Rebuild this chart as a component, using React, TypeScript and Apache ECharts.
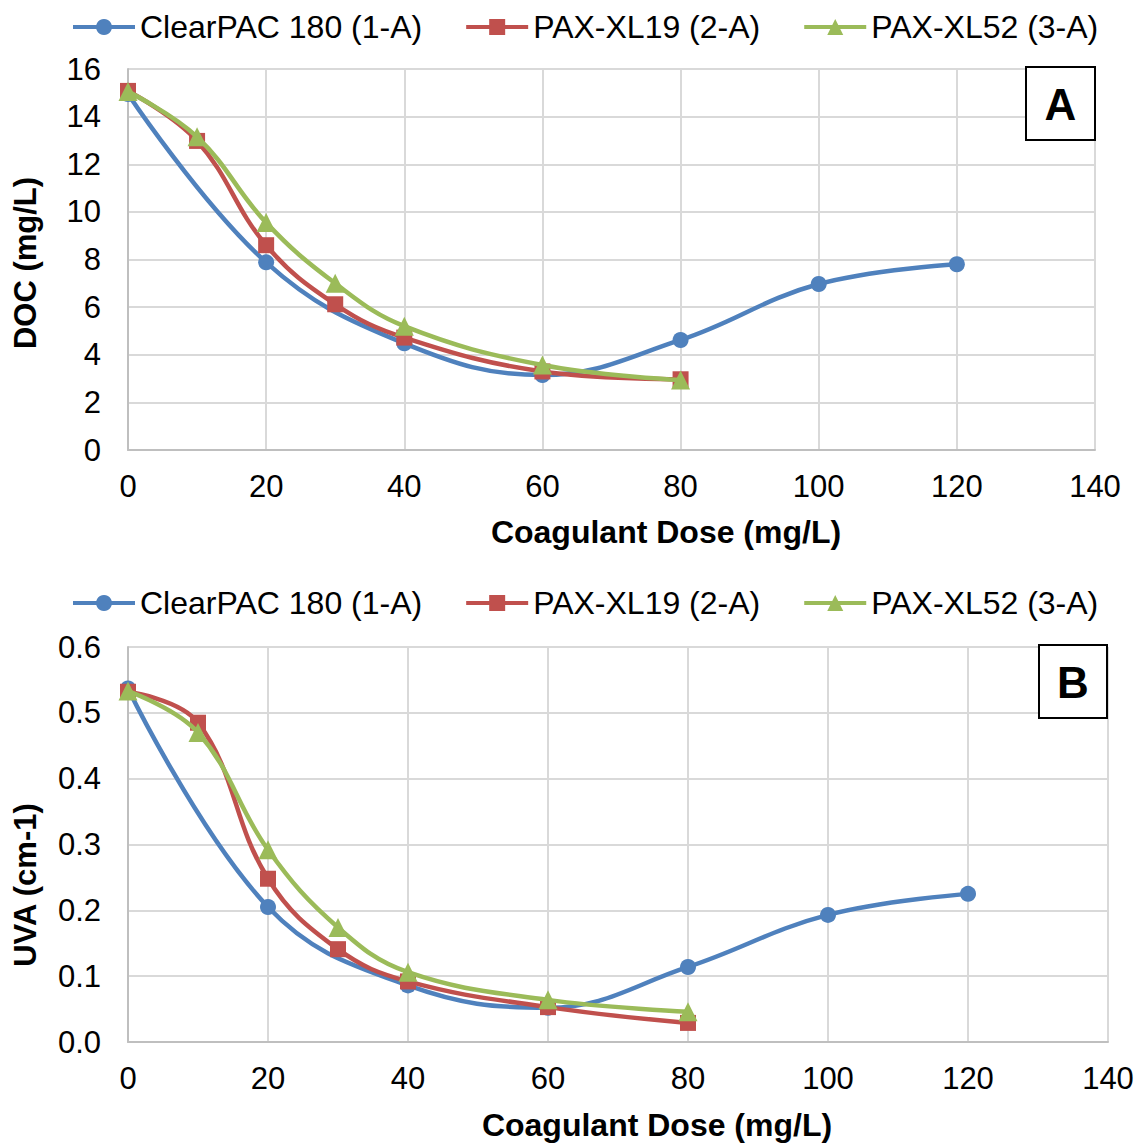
import React, { useEffect, useRef } from "react";
import * as echarts from "echarts";

const seriesNames = ["ClearPAC 180 (1-A)", "PAX-XL19 (2-A)", "PAX-XL52 (3-A)"];
const colors = ["#4f81bd", "#c0504d", "#9bbb59"];
const symbols = ["circle", "rect", "triangle"];

const blueDoses = [0, 20, 40, 60, 80, 100, 120];
const otherDoses = [0, 10, 20, 30, 40, 60, 80];

const docBlue = [14.95, 7.88, 4.48, 3.15, 4.62, 6.97, 7.8];
const docRed = [15.08, 12.98, 8.6, 6.12, 4.72, 3.3, 2.97];
const docGreen = [15.05, 13.15, 9.55, 7.0, 5.2, 3.57, 2.94];

const uvaBlue = [0.537, 0.205, 0.086, 0.052, 0.114, 0.193, 0.225];
const uvaRed = [0.532, 0.485, 0.248, 0.141, 0.092, 0.053, 0.029];
const uvaGreen = [0.533, 0.47, 0.292, 0.174, 0.106, 0.064, 0.046];

const xTicks = { min: 0, max: 140, interval: 20 };
const docTicks = { min: 0, max: 16, interval: 2 };
const uvaTicks = { min: 0, max: 0.6, interval: 0.1 };

const FONT = "'Liberation Sans', Arial, sans-serif";

function pairs(xs: number[], ys: number[]) {
  return xs.map((x, i) => [x, ys[i]]);
}

export default function App() {
  const ref = useRef<HTMLDivElement>(null);
  useEffect(() => {
    if (!ref.current) return;
    const chart = echarts.init(ref.current, null, { renderer: "svg" });
    const gridColor = "#d9d9d9";
    const axisColor = "#bfbfbf";
    const mkX = (gridIndex: number) => ({
      type: "value",
      gridIndex,
      min: xTicks.min,
      max: xTicks.max,
      interval: xTicks.interval,
      axisLine: { show: true, onZero: false, lineStyle: { color: axisColor, width: 2 } },
      axisTick: { show: false },
      axisLabel: { color: "#000", fontSize: 31, fontFamily: FONT, margin: 21 },
      splitLine: { show: true, lineStyle: { color: gridColor, width: 2 } },
    });
    const mkY = (gridIndex: number, t: any, fmt: (v: number) => string) => ({
      type: "value",
      gridIndex,
      min: t.min,
      max: t.max,
      interval: t.interval,
      axisLine: { show: true, lineStyle: { color: axisColor, width: 2 } },
      axisTick: { show: false },
      axisLabel: { color: "#000", fontSize: 31, fontFamily: FONT, margin: 27, formatter: fmt },
      splitLine: { show: true, lineStyle: { color: gridColor, width: 2 } },
    });
    const mkSeries = (idx: number, gi: number, data: number[][]) => ({
      type: "line",
      name: seriesNames[idx],
      xAxisIndex: gi,
      yAxisIndex: gi,
      data,
      smooth: 0.4,
      symbol: symbols[idx],
      symbolSize: idx === 2 ? 19 : 16,
      lineStyle: { color: colors[idx], width: 4.5 },
      itemStyle: { color: colors[idx] },
      z: 3 + idx,
    });
    const legendCommon = {
      data: seriesNames,
      left: 66,
      itemWidth: 62,
      itemHeight: 20,
      itemGap: 42,
      lineStyle: { width: 4 },
      textStyle: { color: "#000", fontSize: 32, fontFamily: FONT },
      selectedMode: false,
    };
    chart.setOption({
      animation: false,
      backgroundColor: "#fff",
      legend: [
        { ...legendCommon, top: 6 },
        { ...legendCommon, top: 582 },
      ],
      grid: [
        { left: 128, right: 50, top: 69, height: 381 },
        { left: 128, right: 37, top: 647, height: 395 },
      ],
      xAxis: [mkX(0), mkX(1)],
      yAxis: [
        mkY(0, docTicks, (v: number) => String(v)),
        mkY(1, uvaTicks, (v: number) => v.toFixed(1)),
      ],
      series: [
        mkSeries(0, 0, pairs(blueDoses, docBlue)),
        mkSeries(1, 0, pairs(otherDoses, docRed)),
        mkSeries(2, 0, pairs(otherDoses, docGreen)),
        mkSeries(0, 1, pairs(blueDoses, uvaBlue)),
        mkSeries(1, 1, pairs(otherDoses, uvaRed)),
        mkSeries(2, 1, pairs(otherDoses, uvaGreen)),
      ],
      graphic: [
        {
          type: "text",
          x: 666,
          y: 532,
          style: { text: "Coagulant Dose (mg/L)", fontSize: 32, fontWeight: "bold", fontFamily: FONT, fill: "#000", align: "center", verticalAlign: "middle" },
        },
        {
          type: "text",
          x: 657,
          y: 1125,
          style: { text: "Coagulant Dose (mg/L)", fontSize: 32, fontWeight: "bold", fontFamily: FONT, fill: "#000", align: "center", verticalAlign: "middle" },
        },
        {
          type: "text",
          x: 25,
          y: 263,
          rotation: Math.PI / 2,
          style: { text: "DOC (mg/L)", fontSize: 31, fontWeight: "bold", fontFamily: FONT, fill: "#000", align: "center", verticalAlign: "middle" },
        },
        {
          type: "text",
          x: 25,
          y: 885,
          rotation: Math.PI / 2,
          style: { text: "UVA (cm-1)", fontSize: 31, fontWeight: "bold", fontFamily: FONT, fill: "#000", align: "center", verticalAlign: "middle" },
        },
        {
          type: "rect",
          shape: { x: 1026, y: 67, width: 69, height: 73 },
          style: { fill: "#fff", stroke: "#000", lineWidth: 2 },
          z: 10,
        },
        {
          type: "text",
          x: 1060.5,
          y: 104,
          z: 11,
          style: { text: "A", fontSize: 44, fontWeight: "bold", fontFamily: FONT, fill: "#000", align: "center", verticalAlign: "middle" },
        },
        {
          type: "rect",
          shape: { x: 1039, y: 645, width: 68, height: 73 },
          style: { fill: "#fff", stroke: "#000", lineWidth: 2 },
          z: 10,
        },
        {
          type: "text",
          x: 1073,
          y: 682,
          z: 11,
          style: { text: "B", fontSize: 44, fontWeight: "bold", fontFamily: FONT, fill: "#000", align: "center", verticalAlign: "middle" },
        },
      ],
    });
    return () => chart.dispose();
  }, []);
  return (
    <div
      ref={ref}
      style={{ position: "absolute", left: 0, top: 0, width: 1145, height: 1144, background: "#fff" }}
    />
  );
}
